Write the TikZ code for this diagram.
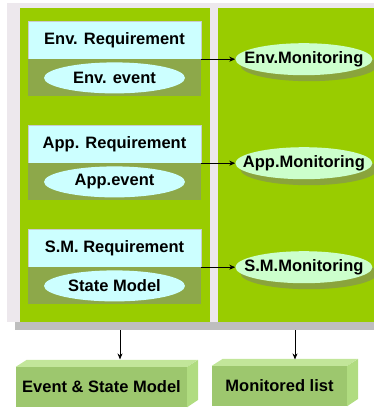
\documentclass[tikz,border=0pt]{standalone}
\usepackage{fontspec}
\setmainfont{Liberation Sans}
\usetikzlibrary{arrows.meta, positioning, shapes.geometric, shadows}

\definecolor{framegray}{HTML}{EDE8ED}
\definecolor{shadegray}{HTML}{BEBEBE}
\definecolor{panelgreen}{HTML}{99CC00}
\definecolor{reqcyan}{HTML}{CCFFFF}
\definecolor{boxedge}{HTML}{C8CCCC}
\definecolor{bandolive}{HTML}{8DA84A}
\definecolor{monlight}{HTML}{CCFFCC}
\definecolor{monshade}{HTML}{8AA43C}
\definecolor{cubefront}{HTML}{9DC76E}
\definecolor{cubetop}{HTML}{C2E69A}
\definecolor{cubeside}{HTML}{B0DC80}

\begin{document}
\begin{tikzpicture}[
    x=1pt, y=-1pt,
    every node/.style={font=\bfseries\fontsize{16.5}{18}\selectfont, inner sep=0pt},
    panel/.style={rectangle, fill=panelgreen, anchor=north west, minimum height=314pt},
    reqbox/.style={rectangle, draw=boxedge, fill=reqcyan, minimum width=173pt, minimum height=38pt},
    evband/.style={rectangle, fill=bandolive, minimum width=173pt, minimum height=37pt},
    evnode/.style={ellipse, fill=reqcyan, minimum width=141pt, minimum height=31pt},
    monnode/.style={ellipse, fill=monlight, minimum width=137pt, minimum height=32pt,
        inner xsep=-13pt, inner ysep=-2pt,
        drop shadow={shadow xshift=5pt, shadow yshift=-6pt, fill=monshade, opacity=1}},
    cube/.style={rectangle, fill=cubefront, minimum height=40pt},
    arrow/.style={-{Stealth[length=6pt, width=5pt]}, semithick}
]
\useasboundingbox (0,0) rectangle (374,409);

% ============ FRAME AND PANELS ============
\node[fill=framegray, anchor=north west, minimum width=367pt, minimum height=319pt] (frame) at (7,3) {};
\node[fill=shadegray, anchor=north west, minimum width=359pt, minimum height=8pt] (bar) at (15,322) {};
\node[panel, minimum width=190pt] (leftpanel) at (20,8) {};
\node[panel, minimum width=156pt] (rightpanel) at (218,8) {};

% ============ ENV. BLOCK ============
\node[reqbox] (envreq) at (114.5,40) {Env. Requirement};
\node[evband, below=0pt of envreq] (envband) {};
\node[evnode] (envev) at (envband) {Env. event};
\node[monnode, right=34pt of envreq.south east] (envmon) {Env.Monitoring};

% ============ APP. BLOCK ============
\node[reqbox] (appreq) at (114.5,144) {App. Requirement};
\node[evband, below=0pt of appreq] (appband) {};
\node[evnode] (appev) at (appband) {App.event};
\node[monnode, right=34pt of appreq.south east] (appmon) {App.Monitoring};

% ============ S.M. BLOCK ============
\node[reqbox] (smreq) at (114.5,248) {S.M. Requirement};
\node[evband, below=0pt of smreq] (smband) {};
\node[evnode] (smev) at (smband) {State Model};
\node[monnode, right=34pt of smreq.south east] (smmon) {S.M.Monitoring};

% Arrows to monitoring
\draw[arrow] (envreq.south east) -- (envmon.west);
\draw[arrow] (appreq.south east) -- (appmon.west);
\draw[arrow] (smreq.south east) -- (smmon.west);

% ============ OUTPUT BOXES ============
\node[cube, minimum width=171pt] (evtcube) at (101.5,387) {Event \& State Model};
\fill[cubetop] (evtcube.north west) -- ++(11,-7) -- ++(171,0) -- (evtcube.north east) -- cycle;
\fill[cubeside] (evtcube.north east) -- ++(11,-7) -- ++(0,40) -- (evtcube.south east) -- cycle;

\node[cube, minimum width=135pt] (moncube) at (279.5,386) {Monitored list};
\fill[cubetop] (moncube.north west) -- ++(11,-7) -- ++(135,0) -- (moncube.north east) -- cycle;
\fill[cubeside] (moncube.north east) -- ++(11,-7) -- ++(0,40) -- (moncube.south east) -- cycle;

% Arrows down
\coordinate (evtout) at (bar.south -| 120,0);
\coordinate (monout) at (bar.south -| 295,0);
\draw[arrow] (evtout) -- ++(0,29);
\draw[arrow] (monout) -- ++(0,29);

\end{tikzpicture}
\end{document}
